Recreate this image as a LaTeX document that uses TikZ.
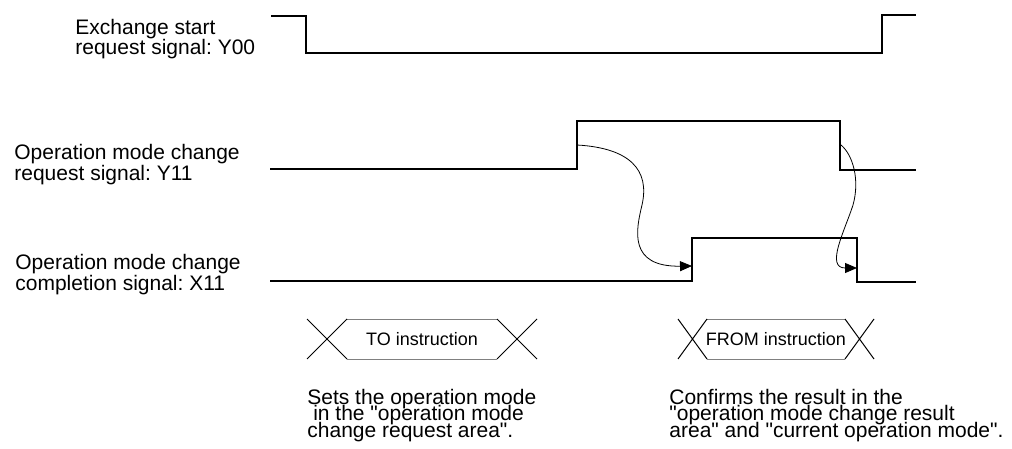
\documentclass[tikz,border=0pt]{standalone}
\usepackage{fontspec}
\setmainfont{Liberation Sans}
\usetikzlibrary{arrows.meta}
\frenchspacing
\newcommand{\qt}{\textquotedbl}
\newcommand{\notefont}{\fontsize{10.5}{8.25}\selectfont\lineskiplimit=-20pt\relax}
\tikzset{sig/.style={line width=1pt,line join=miter},
  arr/.style={-{Triangle[length=6pt,width=5pt]},line width=0.4pt},
  lbl/.style={anchor=base west,align=left,inner sep=0pt,font=\fontsize{10.5}{10.25}\selectfont},
  note/.style={lbl,font=\notefont},
  instr/.style={inner sep=0pt,font=\fontsize{9}{10}\selectfont}}

\begin{document}
\begin{tikzpicture}[x=0.5pt,y=-0.5pt]
\useasboundingbox (0,0) rectangle (1012,449);
% signal names
\node[lbl] (y00) at (75,55) {Exchange start\\request signal: Y00};
\node[lbl] (y11) at (14,180) {Operation mode change\\request signal: Y11};
\node[lbl] (x11) at (15,290) {Operation mode change\\completion signal: X11};
% timing lines
\draw[sig] (271,16) -- (306,16) -- (306,53) -- (882,53) -- (882,15) -- (916,15);
\draw[sig] (270,169) -- (577,169) -- (577,121) -- (840,121) -- (840,170) -- (916,170);
\draw[sig] (270,281) -- (692,281) -- (692,238) -- (857,238) -- (857,282) -- (916,282);
% handshake
\coordinate (reqOn) at (577,145); \coordinate (cmpOn) at (692,266);
\coordinate (reqOff) at (841,145); \coordinate (cmpOff) at (857,268);
\draw[arr] (reqOn) .. controls (630,148) and (650,170) .. (642,205) .. controls (636,230) and (628,267) .. (cmpOn);
\draw[arr] (reqOff) .. controls (853,155) and (860,180) .. (853,205) .. controls (845,230) and (825,268) .. (cmpOff);
% instructions
\foreach \nm/\cx/\hw/\s/\txt in {to/422/75/40/TO instruction,from/776/69/29/FROM instruction}{
  \draw[gray,line width=0.5pt] ({\cx-\hw},319) -- ({\cx+\hw},319) ({\cx-\hw},359) -- ({\cx+\hw},359);
  \draw[line width=0.5pt] ({\cx-\hw},319) -- ({\cx-\hw-\s},359) ({\cx-\hw},359) -- ({\cx-\hw-\s},319)
    ({\cx+\hw},319) -- ({\cx+\hw+\s},359) ({\cx+\hw},359) -- ({\cx+\hw+\s},319);
  \node[instr] (\nm) at (\cx,339) {\txt};
}
\node[note] (toNote) at (307,437) {Sets the operation mode\\\hspace*{0.28em}in the \qt operation mode\\change request area\qt.};
\node[note] (fromNote) at (669,437) {Confirms the result in the\\\qt operation mode change result\\area\qt{} and \qt current operation mode\qt.};
\end{tikzpicture}
\end{document}
